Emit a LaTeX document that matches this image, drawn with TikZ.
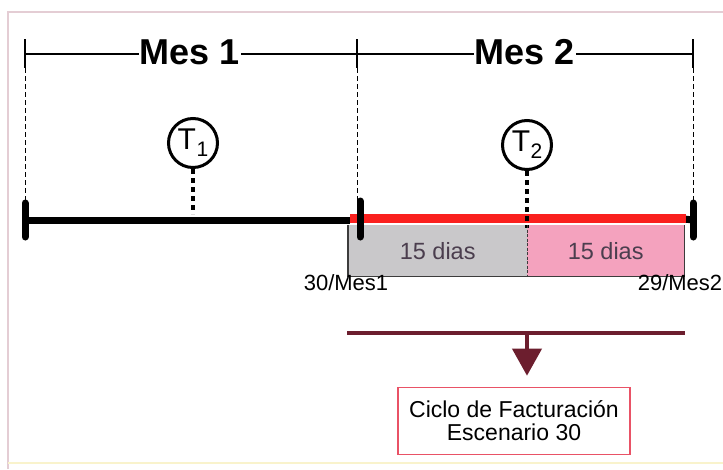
\documentclass[tikz,border=0pt]{standalone}
\usepackage{fontspec}
\setmainfont{Liberation Sans}
\usetikzlibrary{arrows.meta}
\begin{document}
\begin{tikzpicture}[x=1pt,y=-1pt,
    monthlabel/.style={font=\fontsize{36}{40}\selectfont\bfseries,inner sep=1pt},
    monthline/.style={line width=2.4pt},
    monthtick/.style={line width=1.8pt},
    guide/.style={line width=0.7pt,dash pattern=on 5pt off 3pt},
    barblack/.style={line width=7pt},
    barred/.style={line width=9pt,draw=redbar},
    bartick/.style={line width=7pt,line cap=round},
    tcircle/.style={circle,draw,line width=3pt,minimum size=49pt,inner sep=0pt,
      font=\fontsize{30}{30}\selectfont},
    tdots/.style={line width=3.2pt,dash pattern=on 5pt off 4pt},
    daybox/.style={anchor=north west,minimum width=#1,minimum height=51pt,inner sep=0pt,
      text=daytext,font=\fontsize{23.5}{23.5}\selectfont},
    datelabel/.style={font=\fontsize{22}{22}\selectfont,inner sep=0pt},
    cyclebox/.style={draw=framered,line width=1.6pt,minimum width=232pt,minimum height=67pt,
      align=center,font=\fontsize{23}{23}\selectfont},
    sumline/.style={draw=arrowmaroon,line width=4pt},
    sumarrow/.style={draw=arrowmaroon,line width=4pt,
      -{Triangle[width=29pt,length=27pt,fill=arrowmaroon]},shorten >=11pt}]
  \definecolor{redbar}{RGB}{250,32,30}
  \definecolor{boxgrey}{RGB}{201,200,202}
  \definecolor{boxpink}{RGB}{244,162,190}
  \definecolor{boxedge}{RGB}{60,60,60}
  \definecolor{daytext}{RGB}{75,62,78}
  \definecolor{arrowmaroon}{RGB}{108,30,46}
  \definecolor{framered}{RGB}{233,82,102}
  \definecolor{framefaint}{RGB}{228,205,212}
  \useasboundingbox (0,0) rectangle (723,469);
  \draw[framefaint,line width=1.2pt] (8,469) -- (8,12) -- (723,12);
  \draw[framefaint!60!yellow!40,line width=1.2pt] (8,463) -- (723,463);
  \coordinate (M0) at (25,54);
  \coordinate (M1) at (357,54);
  \coordinate (M2) at (693,54);
  \node[monthlabel] (mes1) at (190,52) {Mes 1};
  \node[monthlabel] (mes2) at (525,52) {Mes 2};
  \draw[monthline] (M0) -- (mes1.west |- M0) (mes1.east |- M0) -- (M1)
    -- (mes2.west |- M1) (mes2.east |- M1) -- (M2);
  \foreach \m in {M0,M1,M2} {
    \draw[monthtick] (\m) ++(0,-15) -- ++(0,29);
    \draw[guide] (\m) ++(0,14) -- ++(0,138);
  }
  \coordinate (B0) at (25,220);
  \coordinate (B1) at (360,219);
  \coordinate (B2) at (693,220);
  \node[daybox=179pt,fill=boxgrey] (dias1) at (348,225) {15 dias};
  \node[daybox=157pt,fill=boxpink] (dias2) at (527,225) {15 dias};
  \draw[boxedge,line width=1.3pt] (dias1.north west) -- (dias1.south west) -- (dias2.south east)
    -- (dias2.north east);
  \draw[barblack] (B0) -- (350,220);
  \draw[barblack] (684,219) -- (B2);
  \draw[barred] (350,218) -- (686,218);
  \foreach \b/\h in {B0/17,B1/18,B2/17}
    \draw[bartick] (\b) ++(0,-\h) -- ++(0,2*\h);
  \node[tcircle] (t1) at (193,143) {T\kern0.5pt\raisebox{-7pt}{\fontsize{21}{21}\selectfont 1}};
  \node[tcircle] (t2) at (527,145) {T\kern0.5pt\raisebox{-7pt}{\fontsize{21}{21}\selectfont 2}};
  \draw[tdots] (t1) -- (t1 |- 0,214);
  \draw[tdots] (t2) -- (t2 |- 0,228);
  \draw[boxedge,line width=0.8pt,dash pattern=on 3pt off 1.5pt] (dias1.north east) -- (dias1.south east);
  \node[datelabel] (fecha1) at (346,283) {30/Mes1};
  \node[datelabel] (fecha2) at (680,283) {29/Mes2};
  \coordinate (sumL) at (347,333);
  \coordinate (sumR) at (685,333);
  \coordinate (sumM) at (527,333);
  \node[cyclebox] (ciclo) at (514,421) {Ciclo de Facturación\\Escenario 30};
  \draw[sumline] (sumL) -- (sumR);
  \draw[sumarrow] (sumM) -- (sumM |- ciclo.north);
\end{tikzpicture}
\end{document}
